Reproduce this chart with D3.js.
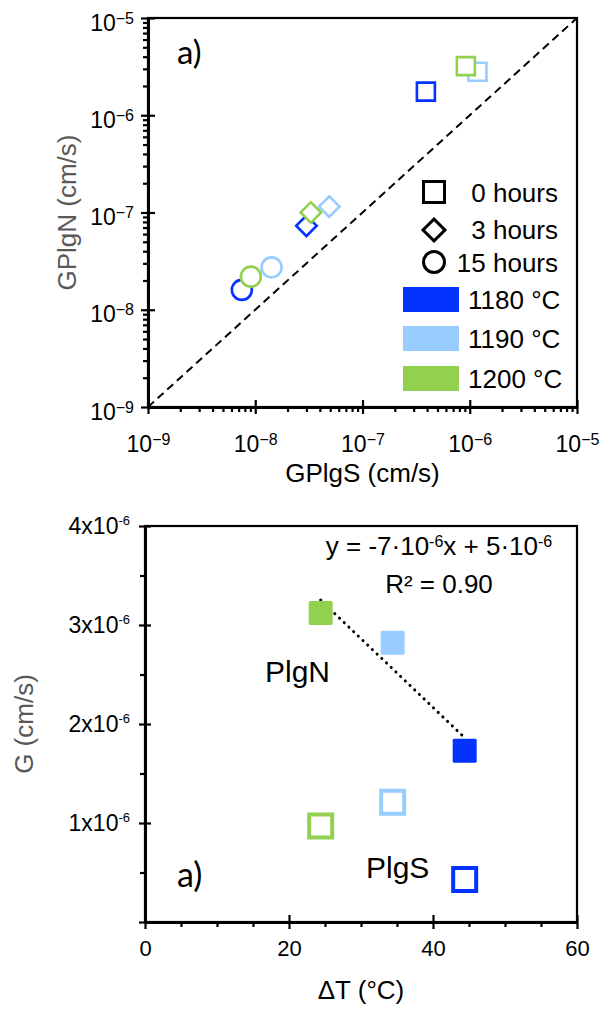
<!DOCTYPE html>
<html>
<head>
<meta charset="utf-8">
<script src="https://cdn.jsdelivr.net/npm/d3@7"></script>
<style>
  body { margin: 0; background: #fff; }
  svg text { font-family: 'Liberation Sans', Arial, sans-serif; fill: #000; }
</style>
</head>
<body>
<div id="chart"></div>
<script>
// series shared by both panels (one entry per temperature)
const temperatures = ['1180 °C', '1190 °C', '1200 °C'];
const tempColors = ['#0433ff', '#99ccff', '#92d050'];
const hourLabels = ['0 hours', '3 hours', '15 hours'];

// panel 1: GPlgS vs GPlgN (cm/s)
const gplgS0h = [3.9e-7, 1.18e-6, 9.2e-7];
const gplgN0h = [1.75e-6, 2.8e-6, 3.2e-6];
const gplgS3h = [3.0e-8, 4.9e-8, 3.3e-8];
const gplgN3h = [7.3e-8, 1.15e-7, 1.0e-7];
const gplgS15h = [7.5e-9, 1.42e-8, 9.1e-9];
const gplgN15h = [1.6e-8, 2.73e-8, 2.19e-8];
const logTicks = [1e-9, 1e-8, 1e-7, 1e-6, 1e-5];

// panel 2: G (cm/s) vs undercooling
const deltaT = [44.4, 34.4, 24.4];
const gPlgN = [1.73e-6, 2.82e-6, 3.12e-6];
const gPlgS = [0.43e-6, 1.21e-6, 0.97e-6];
const gTicks = [0, 1e-6, 2e-6, 3e-6, 4e-6];
const dtTicks = [0, 20, 40, 60];

const width = 602;
const height = 1010;

const svg = d3.select('#chart')
  .append('svg')
  .attr('width', width)
  .attr('height', height);

// ---- helpers ----
const symbolPath = (type, size) => d3.symbol().type(type).size(size)();

function powerLabel (textSel, base, exp, supSize, supDy) {
  textSel.text(null);
  textSel.append('tspan').text(base);
  textSel.append('tspan')
    .attr('font-size', supSize)
    .attr('dy', supDy)
    .text(exp);
}

function styleAxis (g, lineWidth) {
  g.attr('font-family', null).attr('font-size', null);
  g.select('.domain').attr('stroke', '#000').attr('stroke-width', lineWidth);
  g.selectAll('.tick line').attr('stroke', '#000').attr('stroke-width', 2.2);
}

// ---- panel 1 ----
const p1 = {left: 148, right: 577, top: 18, bottom: 407};

const x1 = d3.scaleLog().domain([1e-9, 1e-5]).range([p1.left, p1.right]);
const y1 = d3.scaleLog().domain([1e-9, 1e-5]).range([p1.bottom, p1.top]);
const minorLog = x1.ticks().filter((d) => !logTicks.some((t) => Math.abs(d / t - 1) < 1e-6));

const panel1 = svg.append('g');

panel1.append('rect')
  .attr('x', p1.left)
  .attr('y', p1.top)
  .attr('width', p1.right - p1.left)
  .attr('height', p1.bottom - p1.top)
  .attr('fill', 'none')
  .attr('stroke', '#000')
  .attr('stroke-width', 2.2);

// 1:1 line
panel1.append('line')
  .attr('x1', x1(1e-9))
  .attr('y1', y1(1e-9))
  .attr('x2', x1(1e-5))
  .attr('y2', y1(1e-5))
  .attr('stroke', '#000')
  .attr('stroke-width', 2)
  .attr('stroke-dasharray', '8,5');

// minor ticks
panel1.append('g')
  .attr('transform', 'translate(0,' + p1.bottom + ')')
  .call(d3.axisBottom(x1).tickValues(minorLog).tickSize(5).tickFormat('').tickSizeOuter(0))
  .call((g) => styleAxis(g, 0));
panel1.append('g')
  .attr('transform', 'translate(' + p1.left + ',0)')
  .call(d3.axisLeft(y1).tickValues(minorLog).tickSize(5).tickFormat('').tickSizeOuter(0))
  .call((g) => styleAxis(g, 0));

const gx1 = panel1.append('g')
  .attr('transform', 'translate(0,' + p1.bottom + ')')
  .call(d3.axisBottom(x1).tickValues(logTicks).tickSize(7).tickSizeOuter(0));
styleAxis(gx1, 3);
gx1.selectAll('.tick line').attr('y1', -7);
gx1.selectAll('.tick text')
  .attr('y', 45)
  .attr('dy', null)
  .attr('font-size', 23)
  .each(function (d) {
    powerLabel(d3.select(this), '10', '\u2212' + Math.abs(Math.round(Math.log10(d))), 16, -7);
  });

const gy1 = panel1.append('g')
  .attr('transform', 'translate(' + p1.left + ',0)')
  .call(d3.axisLeft(y1).tickValues(logTicks).tickSize(7).tickSizeOuter(0));
styleAxis(gy1, 3);
gy1.selectAll('.tick line').attr('x1', 7);
gy1.selectAll('.tick text')
  .attr('x', -14)
  .attr('y', 12)
  .attr('dy', null)
  .attr('font-size', 23)
  .each(function (d) {
    powerLabel(d3.select(this), '10', '\u2212' + Math.abs(Math.round(Math.log10(d))), 16, -7);
  });

// axis titles
panel1.append('text')
  .attr('x', (p1.left + p1.right) / 2)
  .attr('y', 482)
  .attr('text-anchor', 'middle')
  .attr('font-size', 26)
  .text('GPlgS (cm/s)');

panel1.append('text')
  .attr('transform', 'translate(76,' + (p1.top + p1.bottom) / 2 + ') rotate(-90)')
  .attr('text-anchor', 'middle')
  .attr('font-size', 26)
  .style('fill', '#595959')
  .text('GPlgN (cm/s)');

// markers: 0 h squares, 3 h diamonds, 15 h circles
const markerSets = [
  {xs: gplgS15h, ys: gplgN15h, type: d3.symbolCircle, size: Math.PI * 10 * 10, rotate: 0},
  {xs: gplgS3h, ys: gplgN3h, type: d3.symbolSquare, size: 14.5 * 14.5, rotate: 45},
  {xs: gplgS0h, ys: gplgN0h, type: d3.symbolSquare, size: 18 * 18, rotate: 0}
];

markerSets.forEach((set) => {
  panel1.append('g')
    .selectAll('path')
    .data(set.xs.map((v, i) => ({x: v, y: set.ys[i], color: tempColors[i]})))
    .enter()
    .append('path')
    .attr('d', symbolPath(set.type, set.size))
    .attr('transform', (d) => 'translate(' + x1(d.x) + ',' + y1(d.y) + ') rotate(' + set.rotate + ')')
    .attr('fill', '#fff')
    .attr('stroke', (d) => d.color)
    .attr('stroke-width', 2.6);
});

panel1.append('text')
  .attr('x', 177)
  .attr('y', 64)
  .attr('font-size', 33)
  .style('font-family', 'Lato, sans-serif')
  .text('a)');

// legend
const legendShapes = [
  {type: d3.symbolSquare, size: 21 * 21, rotate: 0, cy: 192, ty: 202},
  {type: d3.symbolSquare, size: 15.5 * 15.5, rotate: 45, cy: 230, ty: 239},
  {type: d3.symbolCircle, size: Math.PI * 10.5 * 10.5, rotate: 0, cy: 262, ty: 272}
];

const legend = panel1.append('g');

legend.selectAll('path')
  .data(legendShapes)
  .enter()
  .append('path')
  .attr('d', (d) => symbolPath(d.type, d.size))
  .attr('transform', (d) => 'translate(434,' + d.cy + ') rotate(' + d.rotate + ')')
  .attr('fill', '#fff')
  .attr('stroke', '#000')
  .attr('stroke-width', 3);

legend.selectAll('text.hours')
  .data(hourLabels)
  .enter()
  .append('text')
  .attr('class', 'hours')
  .attr('x', 558)
  .attr('y', (d, i) => legendShapes[i].ty)
  .attr('text-anchor', 'end')
  .attr('font-size', 26)
  .text((d) => d);

const swatchY = [287, 326, 366];

legend.selectAll('rect')
  .data(temperatures)
  .enter()
  .append('rect')
  .attr('x', 403)
  .attr('y', (d, i) => swatchY[i])
  .attr('width', 56)
  .attr('height', 25)
  .attr('fill', (d, i) => tempColors[i]);

legend.selectAll('text.temp')
  .data(temperatures)
  .enter()
  .append('text')
  .attr('class', 'temp')
  .attr('x', 468)
  .attr('y', (d, i) => swatchY[i] + 22)
  .attr('font-size', 26)
  .text((d) => d);

// ---- panel 2 ----
const p2 = {left: 145, right: 577, top: 526, bottom: 922};

const x2 = d3.scaleLinear().domain([0, 60]).range([p2.left, p2.right]);
const y2 = d3.scaleLinear().domain([0, 4e-6]).range([p2.bottom, p2.top]);

const panel2 = svg.append('g');

panel2.append('rect')
  .attr('x', p2.left)
  .attr('y', p2.top)
  .attr('width', p2.right - p2.left)
  .attr('height', p2.bottom - p2.top)
  .attr('fill', 'none')
  .attr('stroke', '#000')
  .attr('stroke-width', 2.2);

panel2.append('g')
  .attr('transform', 'translate(0,' + p2.bottom + ')')
  .call(d3.axisBottom(x2).tickValues(x2.ticks(12).filter((d) => d % 20 !== 0)).tickSize(5).tickFormat('').tickSizeOuter(0))
  .call((g) => styleAxis(g, 0));
panel2.append('g')
  .attr('transform', 'translate(' + p2.left + ',0)')
  .call(d3.axisLeft(y2).tickValues(y2.ticks(8).filter((d) => Math.abs(d / 1e-6 - Math.round(d / 1e-6)) > 0.1)).tickSize(5).tickFormat('').tickSizeOuter(0))
  .call((g) => styleAxis(g, 0));

const gx2 = panel2.append('g')
  .attr('transform', 'translate(0,' + p2.bottom + ')')
  .call(d3.axisBottom(x2).tickValues(dtTicks).tickSize(7).tickSizeOuter(0));
styleAxis(gx2, 3);
gx2.selectAll('.tick line').attr('y1', -7);
gx2.selectAll('.tick text')
  .attr('y', 34)
  .attr('dy', null)
  .attr('font-size', 22);

const gy2 = panel2.append('g')
  .attr('transform', 'translate(' + p2.left + ',0)')
  .call(d3.axisLeft(y2).tickValues(gTicks).tickSize(6).tickSizeOuter(0));
styleAxis(gy2, 3);
gy2.selectAll('.tick line').attr('x1', 6);
gy2.selectAll('.tick text')
  .attr('x', -15)
  .attr('y', 7)
  .attr('dy', null)
  .attr('font-size', 23)
  .each(function (d) {
    const sel = d3.select(this);
    if (d === 0) {
      sel.remove();
      return;
    }
    powerLabel(sel, Math.round(d / 1e-6) + 'x10', '-6', 13, -9);
  });

panel2.append('text')
  .attr('x', (p2.left + p2.right) / 2)
  .attr('y', 999)
  .attr('text-anchor', 'middle')
  .attr('font-size', 26)
  .text('ΔT (°C)');

panel2.append('text')
  .attr('transform', 'translate(33,' + (p2.top + p2.bottom) / 2 + ') rotate(-90)')
  .attr('text-anchor', 'middle')
  .attr('font-size', 26)
  .style('fill', '#595959')
  .text('G (cm/s)');

// linear fit through the PlgN points
const meanX = d3.mean(deltaT);
const meanY = d3.mean(gPlgN);
const slope = d3.sum(deltaT, (d, i) => (d - meanX) * (gPlgN[i] - meanY)) /
  d3.sum(deltaT, (d) => (d - meanX) * (d - meanX));
const fit = (t) => meanY + slope * (t - meanX);
const fitRange = d3.extent(deltaT);

panel2.append('line')
  .attr('x1', x2(fitRange[0]))
  .attr('y1', y2(fit(fitRange[0])))
  .attr('x2', x2(fitRange[1]))
  .attr('y2', y2(fit(fitRange[1])))
  .attr('stroke', '#000')
  .attr('stroke-width', 3)
  .attr('stroke-linecap', 'round')
  .attr('stroke-dasharray', '0.1,6.4');

// PlgS: open squares
panel2.append('g')
  .selectAll('path')
  .data(deltaT.map((t, i) => ({x: t, y: gPlgS[i], color: tempColors[i]})))
  .enter()
  .append('path')
  .attr('d', symbolPath(d3.symbolSquare, 23 * 23))
  .attr('transform', (d) => 'translate(' + x2(d.x) + ',' + y2(d.y) + ')')
  .attr('fill', '#fff')
  .attr('stroke', (d) => d.color)
  .attr('stroke-width', 4);

// PlgN: filled squares
panel2.append('g')
  .selectAll('rect')
  .data(deltaT.map((t, i) => ({x: t, y: gPlgN[i], color: tempColors[i]})))
  .enter()
  .append('rect')
  .attr('x', (d) => x2(d.x) - 12)
  .attr('y', (d) => y2(d.y) - 12)
  .attr('width', 24)
  .attr('height', 24)
  .attr('rx', 1.5)
  .attr('fill', (d) => d.color);

panel2.append('text')
  .attr('x', 439)
  .attr('y', 555)
  .attr('text-anchor', 'middle')
  .attr('font-size', 26)
  .call((t) => {
    t.append('tspan').text('y = -7·10');
    t.append('tspan').attr('font-size', 16).attr('dy', -8).text('-6');
    t.append('tspan').attr('dy', 8).text('x + 5·10');
    t.append('tspan').attr('font-size', 16).attr('dy', -8).text('-6');
  });

panel2.append('text')
  .attr('x', 439)
  .attr('y', 593)
  .attr('text-anchor', 'middle')
  .attr('font-size', 26)
  .text('R² = 0.90');

panel2.append('text')
  .attr('x', 265)
  .attr('y', 682)
  .attr('font-size', 30)
  .text('PlgN');

panel2.append('text')
  .attr('x', 366)
  .attr('y', 878)
  .attr('font-size', 30)
  .text('PlgS');

panel2.append('text')
  .attr('x', 177)
  .attr('y', 887)
  .attr('font-size', 34)
  .style('font-family', 'Lato, sans-serif')
  .text('a)');
</script>
</body>
</html>
